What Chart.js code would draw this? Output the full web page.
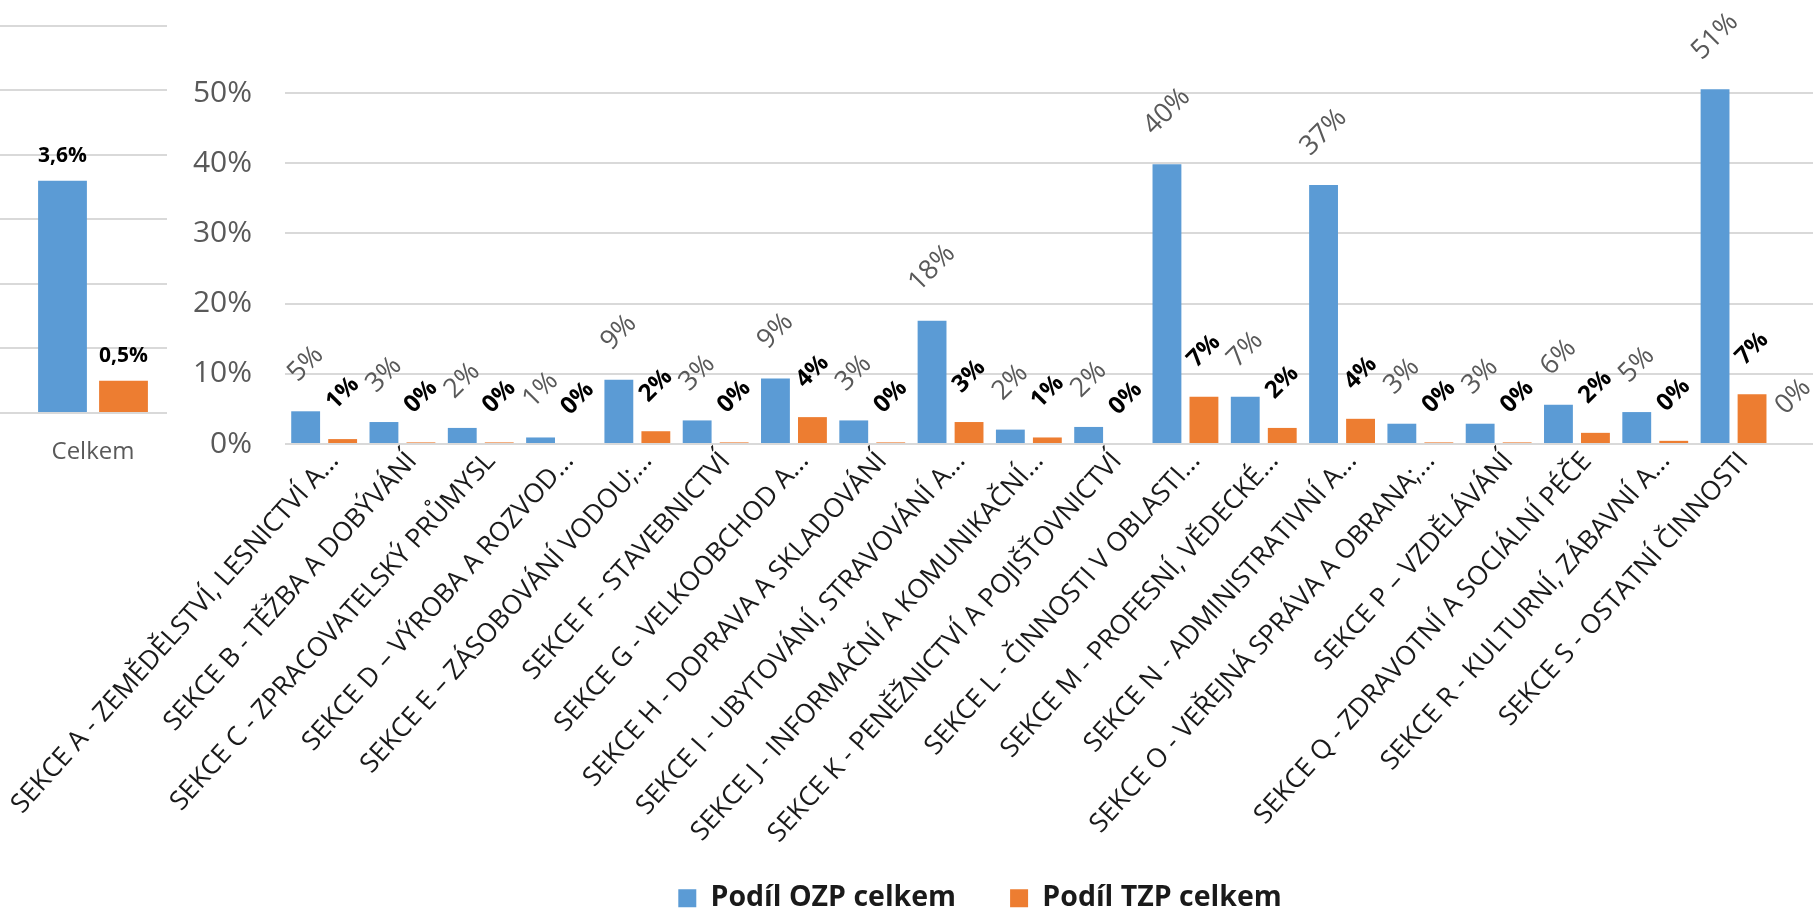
<!DOCTYPE html>
<html>
<head>
<meta charset="utf-8">
<script src="https://cdn.jsdelivr.net/npm/chart.js@4.4.1/dist/chart.umd.min.js"></script>
<style>
  html, body { margin: 0; padding: 0; overflow: hidden; background: #fff; width: 1813px; height: 914px; }
  #total { position: absolute; left: 0; top: 0; width: 167px; height: 480px; overflow: hidden; }
  #sections { position: absolute; left: 0; top: 0; width: 1870px; height: 914px; }
  #legend { position: absolute; left: 109px; top: 830px; width: 1761px; height: 170px; }
</style>
</head>
<body>
<div id="total"><canvas id="chart-total" width="186" height="480"></canvas></div>
<div id="sections"><canvas id="chart-sections"></canvas></div>
<div id="legend"><canvas id="chart-legend"></canvas></div>
<script>
/* global Chart */
var sectionLabels = [
    'SEKCE A - ZEMĚDĚLSTVÍ, LESNICTVÍ A...',
    'SEKCE B - TĚŽBA A DOBÝVÁNÍ',
    'SEKCE C - ZPRACOVATELSKÝ PRŮMYSL',
    'SEKCE D – VÝROBA A ROZVOD...',
    'SEKCE E – ZÁSOBOVÁNÍ VODOU;...',
    'SEKCE F - STAVEBNICTVÍ',
    'SEKCE G - VELKOOBCHOD A...',
    'SEKCE H - DOPRAVA A SKLADOVÁNÍ',
    'SEKCE I - UBYTOVÁNÍ, STRAVOVÁNÍ A...',
    'SEKCE J - INFORMAČNÍ A KOMUNIKAČNÍ...',
    'SEKCE K - PENĚŽNICTVÍ A POJIŠŤOVNICTVÍ',
    'SEKCE L - ČINNOSTI V OBLASTI...',
    'SEKCE M - PROFESNÍ, VĚDECKÉ...',
    'SEKCE N - ADMINISTRATIVNÍ A...',
    'SEKCE O - VEŘEJNÁ SPRÁVA A OBRANA;...',
    'SEKCE P – VZDĚLÁVÁNÍ',
    'SEKCE Q - ZDRAVOTNÍ A SOCIÁLNÍ PÉČE',
    'SEKCE R - KULTURNÍ, ZÁBAVNÍ A...',
    'SEKCE S - OSTATNÍ ČINNOSTI',
    ''
];
var ozpShare = [0.0466, 0.0313, 0.0229, 0.0093, 0.0915, 0.0336, 0.0934, 0.0336, 0.1755, 0.0205,
                0.0243, 0.3987, 0.0672, 0.3690, 0.0289, 0.0289, 0.0560, 0.0455, 0.5055, 0];
var tzpShare = [0.0070, 0.0023, 0.0023, 0, 0.0182, 0.0023, 0.0383, 0.0023, 0.0313, 0.0093,
                0, 0.0672, 0.0229, 0.0359, 0.0023, 0.0023, 0.0159, 0.0045, 0.0710, 0];
var totalLabels = ['Celkem'];
var totalOzp = [0.036];
var totalTzp = [0.005];
var seriesNames = ['Podíl OZP celkem', 'Podíl TZP celkem'];

var BLUE = '#5b9bd5';
var ORANGE = '#ed7d31';
var GRID = '#d9d9d9';
Chart.defaults.font.family = '"Open Sans", "DejaVu Sans", sans-serif';

function pct(v) { return Math.round(v * 100) + '%'; }
function pctComma(v) { return (v * 100).toFixed(1).replace('.', ',') + '%'; }

// value labels over the bars (the datalabels plugin is not available offline)
function makeLabelPlugin(cfg) {
    return {
        id: 'barValueLabels',
        afterDatasetsDraw: function (chart) {
            var ctx = chart.ctx;
            chart.data.datasets.forEach(function (ds, i) {
                var meta = chart.getDatasetMeta(i);
                var st = cfg.styles[i];
                meta.data.forEach(function (bar, j) {
                    var v = ds.data[j];
                    if (v === null || v === undefined) { return; }
                    var text = cfg.format(v);
                    ctx.save();
                    ctx.font = st.weight + ' ' + st.size + 'px ' + Chart.defaults.font.family;
                    ctx.fillStyle = st.color;
                    ctx.textAlign = 'center';
                    if (cfg.rotate) {
                        var w = ctx.measureText(text).width;
                        var half = (w + st.size * 0.72) / (2 * Math.SQRT2);
                        ctx.translate(bar.x, bar.y - cfg.gap - half);
                        ctx.rotate(-Math.PI / 4);
                        ctx.textBaseline = 'middle';
                        ctx.fillText(text, 0, 0);
                    } else {
                        ctx.textBaseline = 'alphabetic';
                        ctx.fillText(text, bar.x, bar.y - cfg.gap);
                    }
                    ctx.restore();
                });
            });
        }
    };
}

new Chart(document.getElementById('chart-total'), {
    type: 'bar',
    data: {
        labels: totalLabels,
        datasets: [
            { label: seriesNames[0], data: totalOzp, backgroundColor: BLUE, categoryPercentage: 0.656, barPercentage: 0.8 },
            { label: seriesNames[1], data: totalTzp, backgroundColor: ORANGE, categoryPercentage: 0.656, barPercentage: 0.8 }
        ]
    },
    options: {
        responsive: false, animation: false,
        layout: { padding: 0 },
        plugins: { legend: { display: false }, tooltip: { enabled: false } },
        scales: {
            x: {
                grid: { display: false }, border: { display: false },
                ticks: { padding: 17, color: '#595959', font: { size: 24 } },
                afterFit: function (s) { s.height = 67; s.paddingLeft = 0; s.paddingRight = 0; }
            },
            y: {
                min: 0, max: 0.064,
                grid: { color: GRID, lineWidth: 2, drawTicks: false }, border: { display: false },
                ticks: { display: false, stepSize: 0.01, includeBounds: false },
                afterFit: function (s) { s.width = 0; }
            }
        }
    },
    plugins: [makeLabelPlugin({
        rotate: false, gap: 19, format: pctComma,
        styles: [{ size: 21, weight: 'bold', color: '#000' }, { size: 21, weight: 'bold', color: '#000' }]
    })]
});

var BASE_Y = 444;
new Chart(document.getElementById('chart-sections'), {
    type: 'bar',
    data: {
        labels: sectionLabels,
        datasets: [
            { label: seriesNames[0], data: ozpShare, backgroundColor: BLUE, categoryPercentage: 0.945, barPercentage: 0.78 },
            { label: seriesNames[1], data: tzpShare, backgroundColor: ORANGE, categoryPercentage: 0.945, barPercentage: 0.78 }
        ]
    },
    options: {
        responsive: true, maintainAspectRatio: false, animation: false,
        layout: { padding: { top: 44, right: 19, left: 0, bottom: 0 } },
        plugins: { legend: { display: false }, tooltip: { enabled: false } },
        scales: {
            x: {
                grid: { display: false }, border: { display: false },
                ticks: { autoSkip: false, minRotation: 48, maxRotation: 48, padding: -6, labelOffset: 10, color: '#1a1a1a', font: { size: 26.5 } },
                afterFit: function (s) {
                    s.height = s.chart.height - BASE_Y;
                    s.paddingLeft = 0;
                    s.paddingRight = 0;
                }
            },
            y: {
                min: 0, max: 0.56,
                grid: { color: GRID, lineWidth: 2, drawTicks: false }, border: { display: false },
                ticks: { stepSize: 0.1, includeBounds: false, padding: 33, color: '#595959', font: { size: 30 }, callback: function (v) { return pct(v); } },
                afterFit: function (s) { s.width = 285; }
            }
        }
    },
    plugins: [makeLabelPlugin({
        rotate: true, gap: 27, format: pct,
        styles: [{ size: 27, weight: 'normal', color: '#595959' }, { size: 24, weight: 'bold', color: '#000' }]
    })]
});

// legend drawn by its own chart so it does not squeeze the rotated category labels
new Chart(document.getElementById('chart-legend'), {
    type: 'bar',
    data: {
        labels: [],
        datasets: [
            { label: seriesNames[0], data: [], backgroundColor: BLUE },
            { label: seriesNames[1], data: [], backgroundColor: ORANGE }
        ]
    },
    options: {
        responsive: true, maintainAspectRatio: false, animation: false,
        layout: { padding: { right: 19 } },
        plugins: {
            tooltip: { enabled: false },
            legend: {
                position: 'top',
                labels: { boxWidth: 18, boxHeight: 18, padding: 54, color: '#1a1a1a', font: { size: 28.5, weight: 'bold' } }
            }
        },
        scales: { x: { display: false }, y: { display: false } }
    }
});
</script>
</body>
</html>
